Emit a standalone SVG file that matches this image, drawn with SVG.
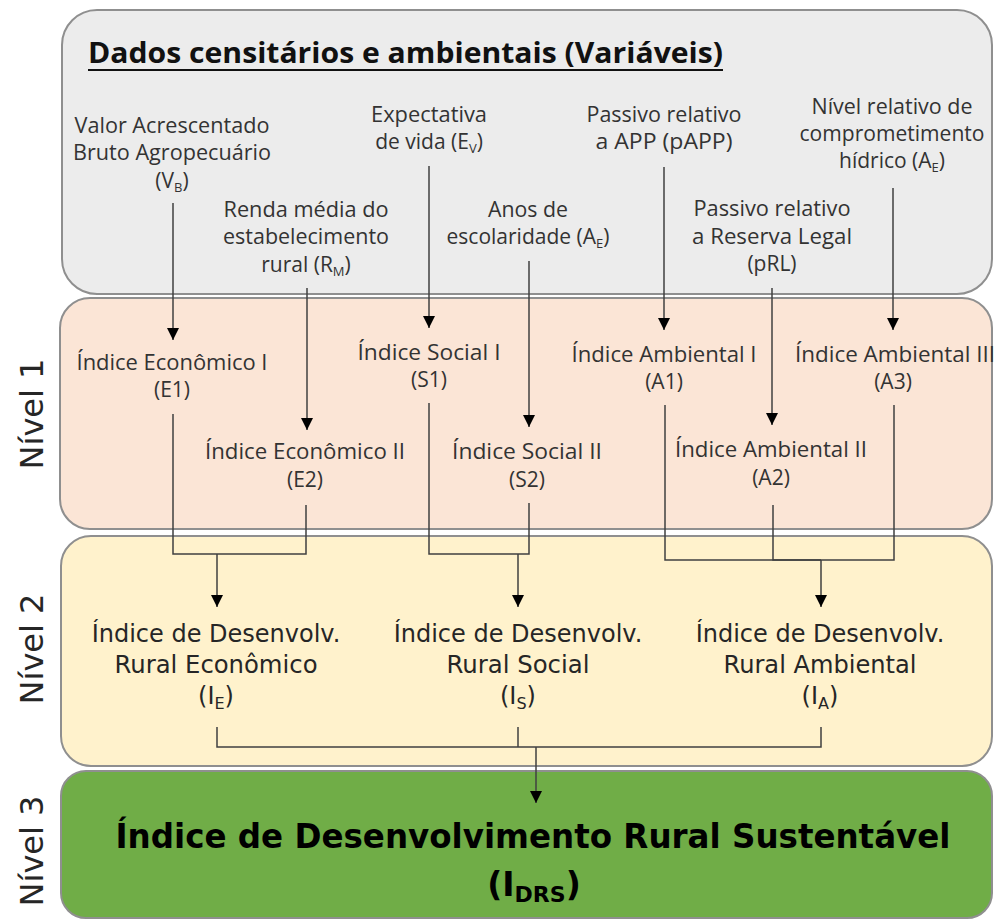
<svg xmlns="http://www.w3.org/2000/svg" width="994" height="920" viewBox="0 0 994 920">
<style>
.box{stroke:#8f8f8f;stroke-width:2}
.t{font-family:"Open Sans","Liberation Sans",sans-serif;font-size:21px;fill:#333;text-anchor:middle}
.l2{font-family:"DejaVu Sans",sans-serif;font-size:24px;fill:#262626;text-anchor:middle}
.l3{font-family:"DejaVu Sans",sans-serif;font-weight:bold;font-size:33px;fill:#000;text-anchor:middle}
.lvl{font-family:"DejaVu Sans",sans-serif;font-size:32px;fill:#262626;text-anchor:middle}
.title{font-family:"Open Sans","Liberation Sans",sans-serif;font-weight:bold;font-size:29px;fill:#111}
.s{font-size:13px}
.s2{font-size:16px}
.s3{font-size:22px}
#connectors path{fill:none;stroke:#404040;stroke-width:1.5}
</style>
<defs>
<marker id="arr" markerUnits="userSpaceOnUse" markerWidth="14" markerHeight="14" refX="12" refY="7" orient="auto" viewBox="0 0 14 14">
<path d="M0,1 L12,7 L0,13 z" fill="#000"/>
</marker>
</defs>

<g id="layer-dados">
<rect class="box" x="62" y="10" width="930" height="284" rx="35" fill="#ececec"/>
<text class="title" x="88" y="63" textLength="635" lengthAdjust="spacingAndGlyphs">Dados censitários e ambientais (Variáveis)</text>
<line x1="88" y1="70" x2="723" y2="70" stroke="#111" stroke-width="2"/>
</g>
<g id="layer-nivel1">
<rect class="box" x="60" y="298" width="932" height="231" rx="30" fill="#fbe5d6"/>
<text class="lvl" transform="translate(43,414) rotate(-90)">Nível 1</text>
</g>
<g id="layer-nivel2">
<rect class="box" x="61" y="536" width="931" height="230" rx="30" fill="#fff2cc"/>
<text class="lvl" transform="translate(43,649) rotate(-90)">Nível 2</text>
</g>
<g id="layer-nivel3">
<rect class="box" x="61" y="771" width="931" height="147" rx="25" fill="#70ad47"/>
<text class="lvl" transform="translate(43,851) rotate(-90)">Nível 3</text>
</g>

<g id="var-vb">
<text class="t" x="172" y="133" textLength="195" lengthAdjust="spacingAndGlyphs">Valor Acrescentado</text>
<text class="t" x="172" y="160" textLength="198" lengthAdjust="spacingAndGlyphs">Bruto Agropecuário</text>
<text class="t" x="172" y="188">(V<tspan class="s" dy="4">B</tspan><tspan dy="-4">)</tspan></text>
</g>
<g id="var-rm">
<text class="t" x="306" y="217" textLength="165" lengthAdjust="spacingAndGlyphs">Renda média do</text>
<text class="t" x="306" y="244" textLength="166" lengthAdjust="spacingAndGlyphs">estabelecimento</text>
<text class="t" x="306" y="272">rural (R<tspan class="s" dy="4">M</tspan><tspan dy="-4">)</tspan></text>
</g>
<g id="var-ev">
<text class="t" x="429" y="122" textLength="116" lengthAdjust="spacingAndGlyphs">Expectativa</text>
<text class="t" x="429" y="149">de vida (E<tspan class="s" dy="4">V</tspan><tspan dy="-4">)</tspan></text>
</g>
<g id="var-ae">
<text class="t" x="528" y="217" textLength="80" lengthAdjust="spacingAndGlyphs">Anos de</text>
<text class="t" x="528" y="244">escolaridade (A<tspan class="s" dy="4">E</tspan><tspan dy="-4">)</tspan></text>
</g>
<g id="var-papp">
<text class="t" x="664" y="122" textLength="155" lengthAdjust="spacingAndGlyphs">Passivo relativo</text>
<text class="t" x="664" y="149" textLength="137" lengthAdjust="spacingAndGlyphs">a APP (pAPP)</text>
</g>
<g id="var-prl">
<text class="t" x="772" y="216" textLength="157" lengthAdjust="spacingAndGlyphs">Passivo relativo</text>
<text class="t" x="772" y="244" textLength="160" lengthAdjust="spacingAndGlyphs">a Reserva Legal</text>
<text class="t" x="772" y="271">(pRL)</text>
</g>
<g id="var-hidrico">
<text class="t" x="892" y="114" textLength="161" lengthAdjust="spacingAndGlyphs">Nível relativo de</text>
<text class="t" x="892" y="141" textLength="185" lengthAdjust="spacingAndGlyphs">comprometimento</text>
<text class="t" x="892" y="168">hídrico (A<tspan class="s" dy="4">E</tspan><tspan dy="-4">)</tspan></text>
</g>

<g id="e1">
<text class="t" x="172" y="370" textLength="191" lengthAdjust="spacingAndGlyphs">Índice Econômico I</text>
<text class="t" x="172" y="397">(E1)</text>
</g>
<g id="e2">
<text class="t" x="305" y="459" textLength="200" lengthAdjust="spacingAndGlyphs">Índice Econômico II</text>
<text class="t" x="305" y="487">(E2)</text>
</g>
<g id="s1">
<text class="t" x="429" y="360" textLength="143" lengthAdjust="spacingAndGlyphs">Índice Social I</text>
<text class="t" x="429" y="387">(S1)</text>
</g>
<g id="s2">
<text class="t" x="527" y="459" textLength="150" lengthAdjust="spacingAndGlyphs">Índice Social II</text>
<text class="t" x="527" y="487">(S2)</text>
</g>
<g id="a1">
<text class="t" x="664" y="362" textLength="185" lengthAdjust="spacingAndGlyphs">Índice Ambiental I</text>
<text class="t" x="664" y="389">(A1)</text>
</g>
<g id="a2">
<text class="t" x="771" y="457" textLength="192" lengthAdjust="spacingAndGlyphs">Índice Ambiental II</text>
<text class="t" x="771" y="485">(A2)</text>
</g>
<g id="a3">
<text class="t" x="895" y="362" textLength="200" lengthAdjust="spacingAndGlyphs">Índice Ambiental III</text>
<text class="t" x="893" y="389">(A3)</text>
</g>

<g id="ie">
<text class="l2" x="216" y="642">Índice de Desenvolv.</text>
<text class="l2" x="216" y="673" textLength="203" lengthAdjust="spacingAndGlyphs">Rural Econômico</text>
<text class="l2" x="216" y="704">(I<tspan class="s2" dy="5">E</tspan><tspan dy="-5">)</tspan></text>
</g>
<g id="is">
<text class="l2" x="518" y="642">Índice de Desenvolv.</text>
<text class="l2" x="518" y="673" textLength="143" lengthAdjust="spacingAndGlyphs">Rural Social</text>
<text class="l2" x="518" y="704">(I<tspan class="s2" dy="5">S</tspan><tspan dy="-5">)</tspan></text>
</g>
<g id="ia">
<text class="l2" x="820" y="642">Índice de Desenvolv.</text>
<text class="l2" x="820" y="673" textLength="193" lengthAdjust="spacingAndGlyphs">Rural Ambiental</text>
<text class="l2" x="820" y="704">(I<tspan class="s2" dy="5">A</tspan><tspan dy="-5">)</tspan></text>
</g>
<g id="idrs">
<text class="l3" x="533" y="848" textLength="835" lengthAdjust="spacingAndGlyphs">Índice de Desenvolvimento Rural Sustentável</text>
<text class="l3" x="534" y="896">(I<tspan class="s3" dy="6">DRS</tspan><tspan dy="-6">)</tspan></text>
</g>

<g id="connectors">
<path d="M173,203 V340" marker-end="url(#arr)"/>
<path d="M307,288 V430" marker-end="url(#arr)"/>
<path d="M429,166 V328" marker-end="url(#arr)"/>
<path d="M529,261 V427" marker-end="url(#arr)"/>
<path d="M664,167 V330" marker-end="url(#arr)"/>
<path d="M772,288 V425" marker-end="url(#arr)"/>
<path d="M893,188 V330" marker-end="url(#arr)"/>
<path d="M173,414 V554 H306 V505"/>
<path d="M217,554 V607" marker-end="url(#arr)"/>
<path d="M429,403 V554 H529 V503"/>
<path d="M518,554 V607" marker-end="url(#arr)"/>
<path d="M665,405 V560 H894 V405"/>
<path d="M773,505 V560 H821"/>
<path d="M821,560 V607" marker-end="url(#arr)"/>
<path d="M217,727 V747 H821 V727"/>
<path d="M518,727 V747"/>
<path d="M536,747 V803" marker-end="url(#arr)"/>
</g>
</svg>
